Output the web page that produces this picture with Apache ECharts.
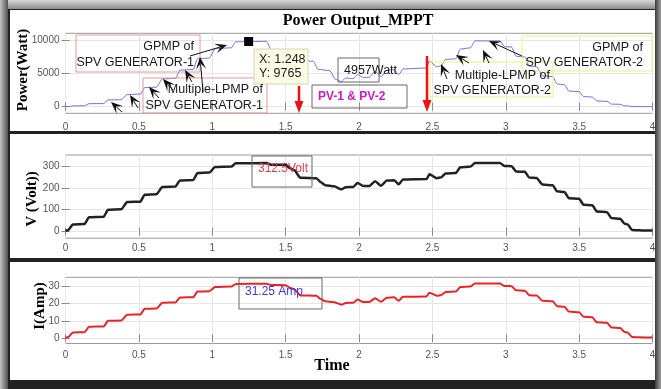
<!DOCTYPE html>
<html><head><meta charset="utf-8">
<script src="https://cdn.jsdelivr.net/npm/echarts@6/dist/echarts.min.js"></script>
<style>
html,body{margin:0;padding:0;background:#fff;}
#wrap{position:relative;width:661px;height:389px;background:#222;overflow:hidden;}
.lay{position:absolute;}
#chart{position:absolute;left:0;top:0;width:661px;height:389px;}
</style></head><body>
<div id="wrap">
 <div class="lay" style="left:0;top:0;width:661px;height:9px;background:linear-gradient(#d8d8d8,#8c8c8c);"></div>
 <div class="lay" style="left:0;top:0;width:8px;height:389px;background:linear-gradient(90deg,#c4c4c4,#505050);"></div>
 <div class="lay" style="left:655px;top:0;width:6px;height:389px;background:linear-gradient(90deg,#3a3a3a,#a0a0a0);"></div>
 <div class="lay" style="left:10px;top:10px;width:645px;height:121px;background:#fff"></div>
 <div class="lay" style="left:10px;top:134px;width:645px;height:124px;background:#fff"></div>
 <div class="lay" style="left:10px;top:262px;width:645px;height:118px;background:#fff"></div>
 <div id="chart"></div>
</div>
<script>
// ---------------- data ----------------
const xTicks = [0, 0.5, 1, 1.5, 2, 2.5, 3, 3.5, 4];
const powerTicks = [0, 5000, 10000];
const voltTicks = [0, 100, 200, 300];
const ampTicks = [0, 10, 20, 30];

const tVI = [0.00,0.02,0.05,0.13,0.16,0.26,0.29,0.38,0.42,0.51,0.54,0.62,0.66,0.75,0.78,0.87,0.90,0.98,1.02,1.13,1.16,1.37,1.40,1.50,1.53,1.56,1.60,1.71,1.74,1.77,1.83,1.88,1.91,1.96,1.99,2.03,2.07,2.11,2.15,2.19,2.24,2.27,2.30,2.46,2.48,2.53,2.56,2.59,2.66,2.69,2.76,2.79,2.96,2.99,3.04,3.07,3.13,3.16,3.21,3.25,3.32,3.35,3.40,3.43,3.50,3.53,3.59,3.62,3.69,3.72,3.78,3.81,3.83,3.86,3.96,4.00];
const voltage = [3,8,33,35,66,68,100,102,135,137,169,171,204,206,234,236,268,270,295,297,312,313,306,305,290,280,246,244,225,212,207,193,203,204,222,208,208,230,210,233,235,216,238,240,262,244,248,266,268,294,297,314,314,300,299,275,273,247,245,215,212,184,181,153,150,123,120,92,89,62,59,36,33,8,5,5];
const current = [0.3,0.8,3.3,3.5,6.6,6.8,10.0,10.2,13.5,13.7,16.9,17.1,20.4,20.6,23.4,23.6,26.8,27.0,29.5,29.7,31.2,31.3,30.6,30.5,29.0,28.0,24.6,24.4,22.5,21.2,20.7,19.3,20.3,20.4,22.2,20.8,20.8,23.0,21.0,23.3,23.5,21.6,23.8,24.0,26.2,24.4,24.8,26.6,26.8,29.4,29.7,31.4,31.4,30.0,29.9,27.5,27.3,24.7,24.5,21.5,21.2,18.4,18.1,15.3,15.0,12.3,12.0,9.2,8.9,6.2,5.9,3.6,3.3,0.8,0.5,0.5];

const tP = [0.00,0.02,0.05,0.13,0.16,0.26,0.29,0.38,0.42,0.51,0.54,0.62,0.66,0.75,0.78,0.87,0.90,0.98,1.02,1.13,1.16,1.37,1.40,1.42,1.62,1.64,1.69,1.72,1.80,1.84,1.88,1.91,1.96,1.99,2.03,2.07,2.11,2.15,2.19,2.24,2.27,2.30,2.46,2.48,2.53,2.56,2.59,2.66,2.69,2.76,2.79,2.96,2.99,3.04,3.07,3.13,3.16,3.21,3.25,3.32,3.35,3.40,3.43,3.50,3.53,3.59,3.62,3.69,3.72,3.78,3.81,3.83,3.86,3.96,4.00];
const power = [1,6,110,120,440,460,1000,1040,1820,1880,2860,2920,4160,4240,5480,5570,7180,7290,8700,8820,9730,9800,8600,8400,8350,6850,6800,5600,5400,4100,3750,4300,4200,4800,4350,4400,5300,4500,5450,5550,4800,5650,5800,6850,5950,6150,7080,7180,8640,8820,9860,9860,9000,8940,7560,7450,6100,6000,4620,4500,3390,3280,2340,2250,1510,1440,850,790,380,350,130,110,6,3,3];

const tipPoint = [1.248, 9765];

// ---------------- chart ----------------
const chart = echarts.init(document.getElementById('chart'), null, {renderer: 'canvas'});
const FONT = "'Liberation Sans', Arial, sans-serif";
const SERIF = "'Liberation Serif', 'Times New Roman', serif";

const grids = [
  {left: 65.5, width: 587, top: 33.3, height: 80},
  {left: 65.5, width: 587, top: 155, height: 83.2},
  {left: 65.5, width: 587, top: 277.3, height: 66.2}
].map(g => Object.assign(g, {show: true, borderColor: '#9a9a9a', borderWidth: 1, containLabel: false}));

const yRanges = [[-1000, 11000, powerTicks], [-30, 350, voltTicks], [-3, 35, ampTicks]];
const xMargins = [9, 5, 7];

function xAx(gi, top) {
  return {
    type: 'value', gridIndex: gi, min: 0, max: 4, interval: 0.5,
    position: top ? 'top' : 'bottom',
    axisLine: {show: false},
    axisTick: {show: true, inside: true, length: 4, lineStyle: {color: '#888'}},
    splitLine: {show: !top, lineStyle: {color: '#e6e6e6', width: 1}},
    axisLabel: {show: !top, fontSize: 10, color: '#555', fontFamily: FONT, margin: xMargins[gi],
      formatter: v => String(v)}
  };
}
function yAx(gi, right) {
  const r = yRanges[gi];
  return {
    type: 'value', gridIndex: gi, min: r[0], max: r[1],
    position: right ? 'right' : 'left',
    axisLine: {show: false},
    axisTick: {show: true, inside: true, length: 4, customValues: r[2], lineStyle: {color: '#888'}},
    splitLine: {show: !right, lineStyle: {color: '#e6e6e6', width: 1}},
    axisLabel: {show: !right, customValues: r[2], fontSize: 10, color: '#555', fontFamily: FONT, margin: 6,
      formatter: v => String(v)}
  };
}

// ---------- annotation helpers (pixel layout) ----------
function arrow(x1, y1, x2, y2, color, lw, L, W, notch) {
  const dx = x2 - x1, dy = y2 - y1, d = Math.hypot(dx, dy), ux = dx / d, uy = dy / d, px = -uy, py = ux;
  const bx = x2 - ux * L, by = y2 - uy * L;
  const pts = [[x2, y2], [bx + px * W / 2, by + py * W / 2], [x2 - ux * L * notch, y2 - uy * L * notch], [bx - px * W / 2, by - py * W / 2]];
  return [
    {type: 'line', z: 100, shape: {x1: x1, y1: y1, x2: x2 - ux * L * 0.6, y2: y2 - uy * L * 0.6}, style: {stroke: color, lineWidth: lw}},
    {type: 'polygon', z: 101, shape: {points: pts}, style: {fill: color}}
  ];
}
function box(x, y, w, h, stroke, fill) {
  return {type: 'rect', z: 90, shape: {x: x, y: y, width: w, height: h}, style: {fill: fill || 'none', stroke: stroke, lineWidth: 1}};
}
function txt(x, y, s, opt) {
  opt = opt || {};
  return {type: 'text', z: 110, x: x, y: y, rotation: opt.rot || 0,
    style: {text: s, fill: opt.color || '#1a1a1a', fontSize: opt.size || 12.5, fontFamily: opt.family || FONT,
      fontWeight: opt.weight || 'normal', align: opt.align || 'left', verticalAlign: 'middle'}};
}

const blackArrows = [
  [122, 112, 111, 102], [138, 108, 130, 95], [159, 98, 149, 87], [173, 90, 163, 79],
  [192, 82, 185, 70], [203, 92, 200, 57], [190, 56, 227, 45],
  [447, 79, 441, 64], [469, 63, 456, 55], [489, 63, 483, 50], [522, 56, 489, 41]
];
const redArrows = [[299, 86, 299, 113], [427, 56, 427, 112]];

let g = [];
// titles / axis names
g.push(txt(358, 21, 'Power Output_MPPT', {size: 16, weight: 'bold', family: SERIF, align: 'center', color: '#000'}));
g.push(txt(23, 70, 'Power(Watt)', {size: 15, weight: 'bold', family: SERIF, align: 'center', color: '#000', rot: Math.PI / 2}));
g.push(txt(32, 199, 'V (Volt))', {size: 15, weight: 'bold', family: SERIF, align: 'center', color: '#000', rot: Math.PI / 2}));
g.push(txt(40, 306, 'I(Amp)', {size: 15, weight: 'bold', family: SERIF, align: 'center', color: '#000', rot: Math.PI / 2}));
g.push(txt(332, 366, 'Time', {size: 16, weight: 'bold', family: SERIF, align: 'center', color: '#000'}));
// panel 1 boxes
g.push(box(76, 35, 124, 37, '#e59a9a'));
g.push(txt(194, 47, 'GPMP of', {align: 'right'}));
g.push(txt(194, 63, 'SPV GENERATOR-1', {align: 'right'}));
g.push(box(143, 78, 124, 35, '#e59a9a'));
g.push(txt(263, 90, 'Multiple-LPMP of', {align: 'right'}));
g.push(txt(263, 106, 'SPV GENERATOR-1', {align: 'right'}));
g.push(box(254, 49, 54, 35, '#d6d6b0', '#fbfbe6'));
g.push(txt(259, 60, 'X: 1.248'));
g.push(txt(259, 74, 'Y: 9765'));
g.push(box(338, 58, 41, 24, '#666'));
g.push(txt(344, 71, '4957Watt'));
g.push(box(312, 85, 95, 23, '#666'));
g.push(txt(318, 97, 'PV-1 & PV-2', {color: '#c41ec4', weight: 'bold', size: 12}));
g.push(box(522, 36, 130, 35, '#eeee80'));
g.push(txt(643, 48, 'GPMP of', {align: 'right'}));
g.push(txt(643, 63, 'SPV GENERATOR-2', {align: 'right'}));
g.push(box(430, 62, 123, 35, '#eeee80'));
g.push(txt(550, 76, 'Multiple-LPMP of', {align: 'right'}));
g.push(txt(551, 91, 'SPV GENERATOR-2', {align: 'right'}));
// panel 2/3 boxes
g.push(box(252, 156, 60, 31, '#666'));
g.push(txt(258, 169, '312.5Volt', {color: '#e0404a', size: 12}));
g.push(box(239, 278, 83, 31, '#666'));
g.push(txt(245, 292, '31.25 Amp', {color: '#3b3bd0', size: 12}));
blackArrows.forEach(a => { g = g.concat(arrow(a[0], a[1], a[2], a[3], '#111', 1, 12, 10, 0.55)); });
redArrows.forEach(a => { g = g.concat(arrow(a[0], a[1], a[2], a[3], '#ee1111', 2.5, 12, 9, 1)); });

const option = {
  animation: false,
  backgroundColor: 'transparent',
  grid: grids,
  xAxis: [xAx(0), xAx(1), xAx(2), xAx(0, true), xAx(1, true), xAx(2, true)],
  yAxis: [yAx(0), yAx(1), yAx(2), yAx(0, true), yAx(1, true), yAx(2, true)],
  series: [
    {type: 'line', xAxisIndex: 0, yAxisIndex: 0, data: tP.map((t, i) => [t, power[i]]),
      symbol: 'none', lineStyle: {color: '#6f6fd8', width: 1}, smooth: 0.2, smoothMonotone: 'x',
      markPoint: {data: [{coord: tipPoint, symbol: 'rect', symbolSize: 9, itemStyle: {color: '#000'}, label: {show: false}}]}},
    {type: 'line', xAxisIndex: 1, yAxisIndex: 1, data: tVI.map((t, i) => [t, voltage[i]]),
      symbol: 'none', lineStyle: {color: '#222', width: 2.5}, smooth: 0.2, smoothMonotone: 'x'},
    {type: 'line', xAxisIndex: 2, yAxisIndex: 2, data: tVI.map((t, i) => [t, current[i]]),
      symbol: 'none', lineStyle: {color: '#e8232a', width: 2}, smooth: 0.2, smoothMonotone: 'x'}
  ],
  graphic: g
};
chart.setOption(option);
</script>
</body></html>
